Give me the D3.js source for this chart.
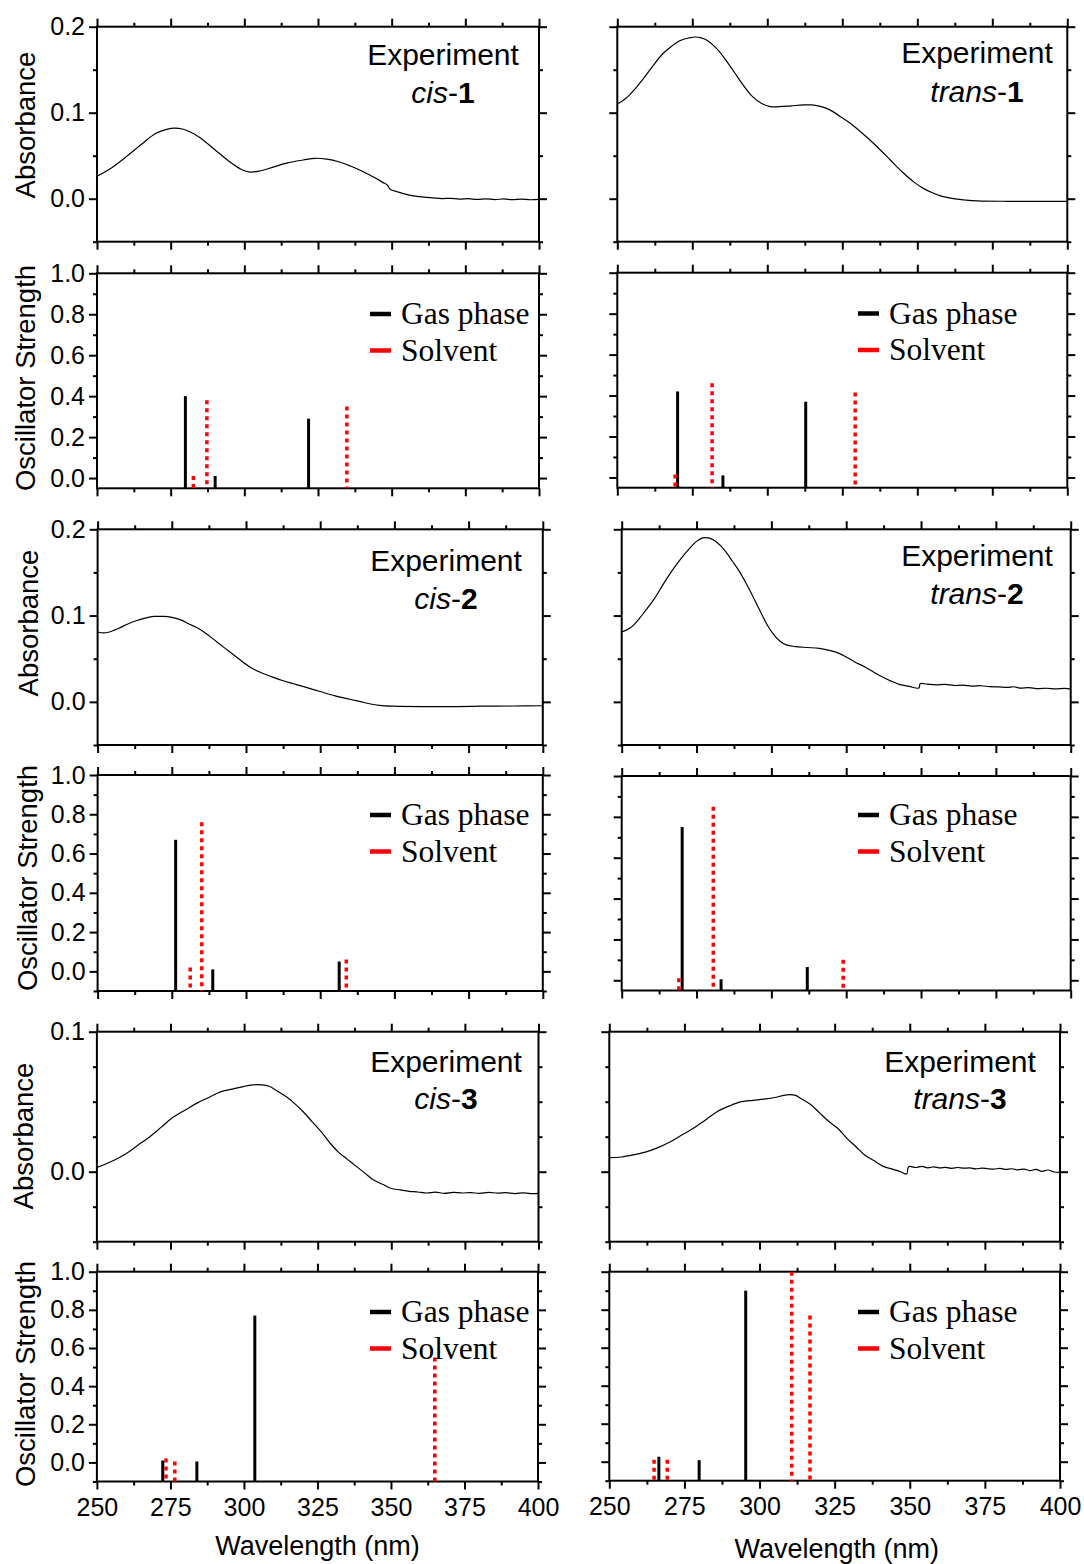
<!DOCTYPE html>
<html>
<head>
<meta charset="utf-8">
<script src="https://cdn.jsdelivr.net/npm/d3@7/dist/d3.min.js"></script>
<style>
body { margin: 0; background: #fff; }
</style>
</head>
<body>
<script>
// wavelength axis ticks (nm)
const xMajor = [250, 275, 300, 325, 350, 375, 400];
const xMinor = [262.5, 287.5, 312.5, 337.5, 362.5, 387.5];

// experimental absorbance spectra [wavelength, absorbance]
const cis1Abs = [[250,0.026],[255,0.036],[260,0.049],[265,0.063],[270,0.076],[273,0.080],[276,0.082],[279,0.081],[282,0.077],[285,0.071],[290,0.057],[295,0.043],[299,0.034],[302,0.031],[305,0.032],[310,0.037],[315,0.042],[320,0.045],[324,0.047],[328,0.046],[332,0.043],[336,0.038],[340,0.032],[344,0.025],[347,0.019],[348.5,0.016],[349.5,0.011],[352,0.008],[355,0.005],[358,0.003],[361,0.0018],[364,0.001],[367,0.0002],[370,0.0004],[373,-0.0004],[376,0.0],[379,-0.0008],[382,-0.0002],[385,-0.001],[388,-0.0003],[391,-0.0011],[394,-0.0005],[397,-0.0012],[400,-0.0008]];
const trans1Abs = [[250,0.110],[253,0.117],[256,0.128],[259,0.141],[262,0.155],[265,0.168],[268,0.177],[271,0.184],[274,0.187],[276,0.188],[278,0.187],[280,0.184],[283,0.175],[286,0.162],[289,0.147],[292,0.132],[295,0.119],[298,0.111],[301,0.107],[304,0.107],[308,0.108],[312,0.109],[315,0.109],[318,0.107],[321,0.103],[325,0.094],[329,0.084],[333,0.072],[337,0.059],[341,0.045],[345,0.031],[349,0.019],[352,0.012],[355,0.007],[358,0.003],[362,0.0],[366,-0.0015],[370,-0.0025],[380,-0.003],[390,-0.003],[400,-0.003]];
const cis2Abs = [[250,0.081],[252,0.080],[254,0.081],[257,0.085],[260,0.090],[263,0.094],[266,0.097],[269,0.099],[272,0.099],[275,0.098],[278,0.095],[281,0.090],[284,0.085],[287,0.078],[290,0.070],[293,0.062],[296,0.054],[299,0.046],[302,0.039],[305,0.034],[308,0.030],[312,0.025],[316,0.021],[320,0.017],[325,0.012],[330,0.007],[335,0.003],[340,-0.001],[345,-0.004],[350,-0.005],[360,-0.0055],[370,-0.0055],[380,-0.005],[390,-0.0048],[400,-0.0045]];
const trans2Abs = [[250,0.081],[252,0.084],[254,0.089],[256,0.097],[258,0.106],[261,0.120],[264,0.137],[267,0.153],[270,0.167],[273,0.179],[275,0.186],[277,0.190],[279,0.190],[281,0.187],[283,0.181],[285,0.173],[287,0.163],[289,0.153],[291,0.141],[293,0.128],[295,0.114],[297,0.100],[299,0.087],[301,0.077],[303,0.070],[305,0.066],[308,0.064],[312,0.063],[316,0.062],[319,0.060],[322,0.057],[325,0.052],[328,0.046],[331,0.041],[334,0.035],[337,0.029],[340,0.024],[343,0.020],[346,0.018],[349.3,0.016],[349.7,0.021],[352,0.0205],[355,0.0198],[358,0.0202],[361,0.019],[364,0.0193],[367,0.0182],[370,0.0187],[373,0.0176],[376,0.0173],[379,0.0168],[381,0.0175],[383,0.016],[386,0.0166],[389,0.0153],[392,0.0158],[395,0.0150],[398,0.0156],[400,0.0148]];
const cis3Abs = [[250,0.0031],[253,0.0055],[256,0.0083],[260,0.013],[264,0.019],[268,0.025],[272,0.032],[276,0.039],[280,0.044],[284,0.049],[288,0.053],[292,0.057],[296,0.059],[300,0.061],[303,0.062],[306,0.062],[308.5,0.061],[311,0.058],[314,0.054],[317,0.049],[320,0.043],[323,0.036],[326,0.029],[329,0.021],[332,0.014],[335,0.009],[338,0.004],[341,-0.001],[344,-0.006],[347,-0.009],[350,-0.012],[353,-0.013],[356,-0.014],[359,-0.0145],[362,-0.0152],[365,-0.0146],[368,-0.0155],[371,-0.0148],[374,-0.0152],[377,-0.0149],[380,-0.0155],[383,-0.0148],[386,-0.0153],[389,-0.0150],[392,-0.0156],[395,-0.0151],[398,-0.0157],[400,-0.0155]];
const trans3Abs = [[250,0.010],[254,0.0105],[258,0.012],[262,0.014],[266,0.017],[270,0.021],[274,0.026],[278,0.031],[282,0.037],[286,0.043],[290,0.047],[294,0.050],[298,0.051],[302,0.052],[305,0.053],[308,0.0545],[310,0.055],[312,0.0545],[314,0.052],[317,0.048],[320,0.042],[323,0.036],[326,0.031],[329,0.024],[332,0.018],[335,0.012],[338,0.008],[341,0.004],[344,0.002],[347,0.0],[349,-0.0017],[349.6,0.0036],[352,0.0030],[354,0.0038],[356,0.0028],[358,0.0035],[360,0.0027],[362,0.0031],[364,0.0024],[366,0.0030],[368,0.0025],[370,0.0027],[372,0.0020],[374,0.0026],[376,0.0021],[378,0.0018],[380,0.0024],[382,0.0016],[384,0.0021],[386,0.0013],[388,0.0019],[390,0.0008],[392,0.0016],[394,0.0003],[396,0.0012],[398,-0.0002],[400,-0.0005]];

// computed transitions [wavelength, oscillator strength]
const cis1Gas = [[280.0,0.40],[290.1,0.01],[321.8,0.29]];
const cis1Sol = [[282.7,0.01],[287.3,0.38],[334.8,0.35]];
const trans1Gas = [[270.1,0.42],[285.2,0.01],[312.8,0.37]];
const trans1Sol = [[269.3,0.015],[281.6,0.46],[329.3,0.415]];
const cis2Gas = [[276.3,0.67],[288.8,0.01],[331.4,0.05]];
const cis2Sol = [[281.2,0.02],[285.1,0.76],[333.8,0.06]];
const trans2Gas = [[270.2,0.75],[283.2,0.005],[312.0,0.065]];
const trans2Sol = [[269.1,0.01],[280.6,0.85],[324.0,0.1]];
const cis3Gas = [[272.4,0.01],[284.0,0.005],[303.7,0.77]];
const cis3Sol = [[273.5,0.02],[276.5,0.005],[364.9,0.55]];
const trans3Gas = [[266.5,0.026],[279.9,0.008],[295.4,0.90]];
const trans3Sol = [[264.9,0.01],[269.3,0.01],[310.7,1.0],[316.8,0.77]];

const legendLabels = ["Gas phase", "Solvent"];

const width = 1084;
const height = 1564;
const sans = "'Liberation Sans', Arial, sans-serif";
const serif = "'Liberation Serif', 'Times New Roman', serif";

const svg = d3.select("body")
	.append("svg")
	.attr("width", width)
	.attr("height", height);

// draws the frame of one panel with ticks on all four sides
function frame(box, yDom, yMajor, yMinor, showY, showX, yFmt) {
	const x = d3.scaleLinear().domain([250, 400]).range([box.x0, box.x1]);
	const y = d3.scaleLinear().domain(yDom).range([box.y1, box.y0]);
	const g = svg.append("g");

	const sides = [
		[d3.axisBottom, x, `translate(0,${box.y1})`, xMajor, xMinor, showX, 9, d3.format("d")],
		[d3.axisTop, x, `translate(0,${box.y0})`, xMajor, xMinor, false, 0, null],
		[d3.axisLeft, y, `translate(${box.x0},0)`, yMajor, yMinor, showY, 4, yFmt],
		[d3.axisRight, y, `translate(${box.x1},0)`, yMajor, yMinor, false, 0, null]
	];
	sides.forEach(([axis, sc, tr, major, minor, labels, pad, fmt]) => {
		g.append("g").attr("transform", tr)
			.call(axis(sc).tickValues(major).tickSize(8).tickSizeOuter(0).tickPadding(pad)
				.tickFormat(labels ? fmt : () => ""));
		g.append("g").attr("transform", tr)
			.call(axis(sc).tickValues(minor).tickSize(4).tickSizeOuter(0).tickFormat(() => ""));
	});
	g.selectAll(".domain").remove();
	g.selectAll(".tick line").attr("stroke", "#000").attr("stroke-width", 2);
	g.selectAll("g").attr("font-family", sans).attr("font-size", 25);
	g.selectAll(".tick text").attr("fill", "#000");

	g.append("rect")
		.attr("x", box.x0).attr("y", box.y0)
		.attr("width", box.x1 - box.x0).attr("height", box.y1 - box.y0)
		.attr("fill", "none").attr("stroke", "#000").attr("stroke-width", 2);
	return {x, y, g};
}

const fmt1 = d3.format(".1f");

const panels = [
	{iso: "cis", num: "1", abs: cis1Abs, gas: cis1Gas, sol: cis1Sol, left: true, bottom: false,
	 a: {x0: 97, x1: 539, y0: 26.7, y1: 241.7}, aDom: [-0.05, 0.2],
	 o: {x0: 97, x1: 539, y0: 273.3, y1: 488.3}, oDom: [-0.05, 1.0],
	 lab: {cx: 443, y1: 65, y2: 103}, leg: {x: 370, y: 314}, ty: [35, 125, 35, 378]},
	{iso: "trans", num: "1", abs: trans1Abs, gas: trans1Gas, sol: trans1Sol, left: false, bottom: false,
	 a: {x0: 617.3, x1: 1067.3, y0: 26.7, y1: 241.7}, aDom: [-0.05, 0.2],
	 o: {x0: 617.3, x1: 1067.3, y0: 272.7, y1: 487.7}, oDom: [-0.05, 1.0],
	 lab: {cx: 977, y1: 63, y2: 102}, leg: {x: 858, y: 313.5}},
	{iso: "cis", num: "2", abs: cis2Abs, gas: cis2Gas, sol: cis2Sol, left: true, bottom: false,
	 a: {x0: 97.6, x1: 542.8, y0: 529.3, y1: 745}, aDom: [-0.05, 0.2],
	 o: {x0: 97.6, x1: 542.8, y0: 775, y1: 991}, oDom: [-0.1, 1.0],
	 lab: {cx: 446, y1: 571, y2: 609}, leg: {x: 370, y: 815}, ty: [38, 623, 37, 878]},
	{iso: "trans", num: "2", abs: trans2Abs, gas: trans2Gas, sol: trans2Sol, left: false, bottom: false,
	 a: {x0: 621.7, x1: 1070.7, y0: 529.3, y1: 745}, aDom: [-0.05, 0.2],
	 o: {x0: 621.7, x1: 1070.7, y0: 776, y1: 990.5}, oDom: [-0.05, 1.0],
	 lab: {cx: 977, y1: 566, y2: 604}, leg: {x: 858, y: 815}},
	{iso: "cis", num: "3", abs: cis3Abs, gas: cis3Gas, sol: cis3Sol, left: true, bottom: true,
	 a: {x0: 96.9, x1: 538.5, y0: 1031.7, y1: 1241.7}, aDom: [-0.05, 0.1],
	 o: {x0: 96.9, x1: 538, y0: 1271.7, y1: 1481.5}, oDom: [-0.1, 1.0],
	 lab: {cx: 446, y1: 1072, y2: 1109}, leg: {x: 370, y: 1312}, ty: [33, 1136, 35, 1374]},
	{iso: "trans", num: "3", abs: trans3Abs, gas: trans3Gas, sol: trans3Sol, left: false, bottom: true,
	 a: {x0: 609.3, x1: 1060, y0: 1031.7, y1: 1241.7}, aDom: [-0.05, 0.1],
	 o: {x0: 609.3, x1: 1060, y0: 1271.7, y1: 1480.7}, oDom: [-0.1, 1.0],
	 lab: {cx: 960, y1: 1072, y2: 1109}, leg: {x: 858, y: 1312}}
];

const line = (x, y) => d3.line()
	.x(d => x(d[0]))
	.y(d => y(d[1]))
	.curve(d3.curveCatmullRom.alpha(0.5));

panels.forEach(p => {
	// absorbance panel
	const small = p.aDom[1] < 0.15;
	const aMajor = small ? [0, 0.1] : [0, 0.1, 0.2];
	const aMinor = small ? [-0.05, -0.025, 0.025, 0.05, 0.075] : [-0.05, 0.05, 0.15];
	const A = frame(p.a, p.aDom, aMajor, aMinor, p.left, false, fmt1);
	A.g.append("path")
		.datum(p.abs)
		.attr("d", line(A.x, A.y))
		.attr("fill", "none")
		.attr("stroke", "#000")
		.attr("stroke-width", 1.2);

	A.g.append("text")
		.attr("x", p.lab.cx).attr("y", p.lab.y1)
		.attr("text-anchor", "middle")
		.attr("font-family", sans).attr("font-size", 30)
		.text("Experiment");
	const t2 = A.g.append("text")
		.attr("x", p.lab.cx).attr("y", p.lab.y2)
		.attr("text-anchor", "middle")
		.attr("font-family", sans).attr("font-size", 30);
	t2.append("tspan").attr("font-style", "italic").text(p.iso);
	t2.append("tspan").text("-");
	t2.append("tspan").attr("font-weight", "bold").text(p.num);

	// oscillator strength panel
	const oMajor = [0, 0.2, 0.4, 0.6, 0.8, 1.0];
	const oMinor = [0.1, 0.3, 0.5, 0.7, 0.9].concat(p.oDom[0] <= -0.1 ? [-0.1] : []);
	const O = frame(p.o, p.oDom, oMajor, oMinor, p.left, p.bottom, fmt1);
	const base = O.y(p.oDom[0]);

	O.g.selectAll(".gas")
		.data(p.gas)
		.join("line")
		.attr("x1", d => O.x(d[0])).attr("x2", d => O.x(d[0]))
		.attr("y1", base).attr("y2", d => O.y(d[1]))
		.attr("stroke", "#000")
		.attr("stroke-width", 3);

	O.g.selectAll(".sol")
		.data(p.sol)
		.join("line")
		.attr("x1", d => O.x(d[0])).attr("x2", d => O.x(d[0]))
		.attr("y1", d => O.y(d[1])).attr("y2", base)
		.attr("stroke", "#ff0000")
		.attr("stroke-width", 3.5)
		.attr("stroke-dasharray", "4,4");

	const leg = O.g.append("g");
	legendLabels.forEach((lab, i) => {
		const ly = p.leg.y + i * 36.5;
		leg.append("line")
			.attr("x1", p.leg.x).attr("x2", p.leg.x + 21)
			.attr("y1", ly).attr("y2", ly)
			.attr("stroke", i === 0 ? "#000" : "#ff0000")
			.attr("stroke-width", 4.5);
		leg.append("text")
			.attr("x", p.leg.x + 31).attr("y", ly + 10)
			.attr("font-family", serif).attr("font-size", 31.5)
			.text(lab);
	});

	// axis titles on the left column
	if (p.ty) {
		svg.append("text")
			.attr("transform", `translate(${p.ty[0]},${p.ty[1]}) rotate(-90)`)
			.attr("text-anchor", "middle")
			.attr("font-family", sans).attr("font-size", 27.5)
			.text("Absorbance");
		svg.append("text")
			.attr("transform", `translate(${p.ty[2]},${p.ty[3]}) rotate(-90)`)
			.attr("text-anchor", "middle")
			.attr("font-family", sans).attr("font-size", 27.5)
			.text("Oscillator Strength");
	}
	if (p.bottom) {
		svg.append("text")
			.attr("x", p.left ? 317.5 : 836.7)
			.attr("y", p.left ? 1555 : 1558)
			.attr("text-anchor", "middle")
			.attr("font-family", sans).attr("font-size", 27)
			.text("Wavelength (nm)");
	}
});
</script>
</body>
</html>
